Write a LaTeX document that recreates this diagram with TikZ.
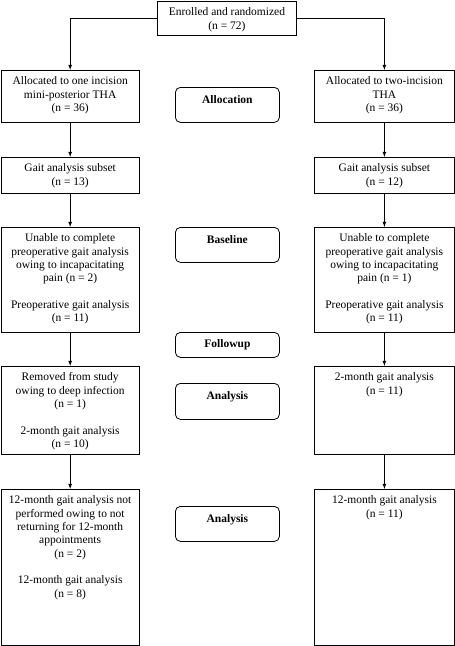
\documentclass[tikz,border=0pt]{standalone}
\usepackage{fontspec}
\setmainfont{Liberation Serif}
\usetikzlibrary{positioning}
\newcommand{\boxtext}[4][14.5pt]{\parbox[c][#3][t]{#2}{\centering\rule{0pt}{#1}#4}}

\begin{document}
\begin{tikzpicture}[x=1pt,y=-1pt,->,>=latex,line width=0.8pt,
        every node/.style={font=\fontsize{11.5}{13.3}\selectfont},
        flowbox/.style={draw,rectangle,anchor=north west,inner sep=0pt},
        stagebox/.style={draw,rectangle,rounded corners=5pt,anchor=north west,inner sep=0pt}]
        \useasboundingbox (0,0) rectangle (455,646);
        % top
        \node[flowbox] (enrol) at (157,0.5) {\boxtext[15pt]{139pt}{34.5pt}{Enrolled and randomized\\(n = 72)}};
        % left arm
        \node[flowbox] (one1) at (0.5,70) {\boxtext{138.5pt}{52pt}{Allocated to one incision\\mini-posterior THA\\(n = 36)}};
        \node[flowbox] (one2) at (0.5,157) {\boxtext{138.5pt}{36pt}{Gait analysis subset\\(n = 13)}};
        \node[flowbox] (one3) at (0.5,227) {\boxtext{138.5pt}{105pt}{Unable to complete\\preoperative gait analysis\\owing to incapacitating\\pain (n = 2)\\[13.3pt]Preoperative gait analysis\\(n = 11)}};
        \node[flowbox] (one4) at (0.5,366) {\boxtext{138.5pt}{88pt}{Removed from study\\owing to deep infection\\(n = 1)\\[13.3pt]2-month gait analysis\\(n = 10)}};
        \node[flowbox] (one5) at (0.5,489) {\boxtext{138.5pt}{156pt}{12-month gait analysis not\\performed owing to not\\returning for 12-month\\appointments\\(n = 2)\\[13.3pt]12-month gait analysis\\(n = 8)}};
        % right arm
        \node[flowbox] (two1) at (314,70) {\boxtext{140pt}{52pt}{Allocated to two-incision\\THA\\(n = 36)}};
        \node[flowbox] (two2) at (314,157) {\boxtext{140pt}{36pt}{Gait analysis subset\\(n = 12)}};
        \node[flowbox] (two3) at (314,227) {\boxtext{140pt}{105pt}{Unable to complete\\preoperative gait analysis\\owing to incapacitating\\pain (n = 1)\\[13.3pt]Preoperative gait analysis\\(n = 11)}};
        \node[flowbox] (two4) at (314,366) {\boxtext{140pt}{88pt}{2-month gait analysis\\(n = 11)}};
        \node[flowbox] (two5) at (314,489) {\boxtext{140pt}{156pt}{12-month gait analysis\\(n = 11)}};
        % stages
        \node[stagebox] (alloc) at (175,87) {\boxtext[16pt]{104pt}{35pt}{\textbf{Allocation}}};
        \node[stagebox] (base) at (175,227) {\boxtext[16pt]{104pt}{35pt}{\textbf{Baseline}}};
        \node[stagebox] (follow) at (175,332) {\boxtext[15pt]{104pt}{25pt}{\textbf{Followup}}};
        \node[stagebox] (anal1) at (175,383) {\boxtext[16pt]{104pt}{36pt}{\textbf{Analysis}}};
        \node[stagebox] (anal2) at (175,506) {\boxtext[16pt]{104pt}{35pt}{\textbf{Analysis}}};
        % arrows
        \draw (enrol.west) -| (one1.north);
        \draw (enrol.east) -| (two1.north);
        \foreach \a/\b in {1/2,2/3,3/4,4/5} {
                \draw (one\a.south) -- (one\b.north);
                \draw (two\a.south) -- (two\b.north);
        }
\end{tikzpicture}
\end{document}
